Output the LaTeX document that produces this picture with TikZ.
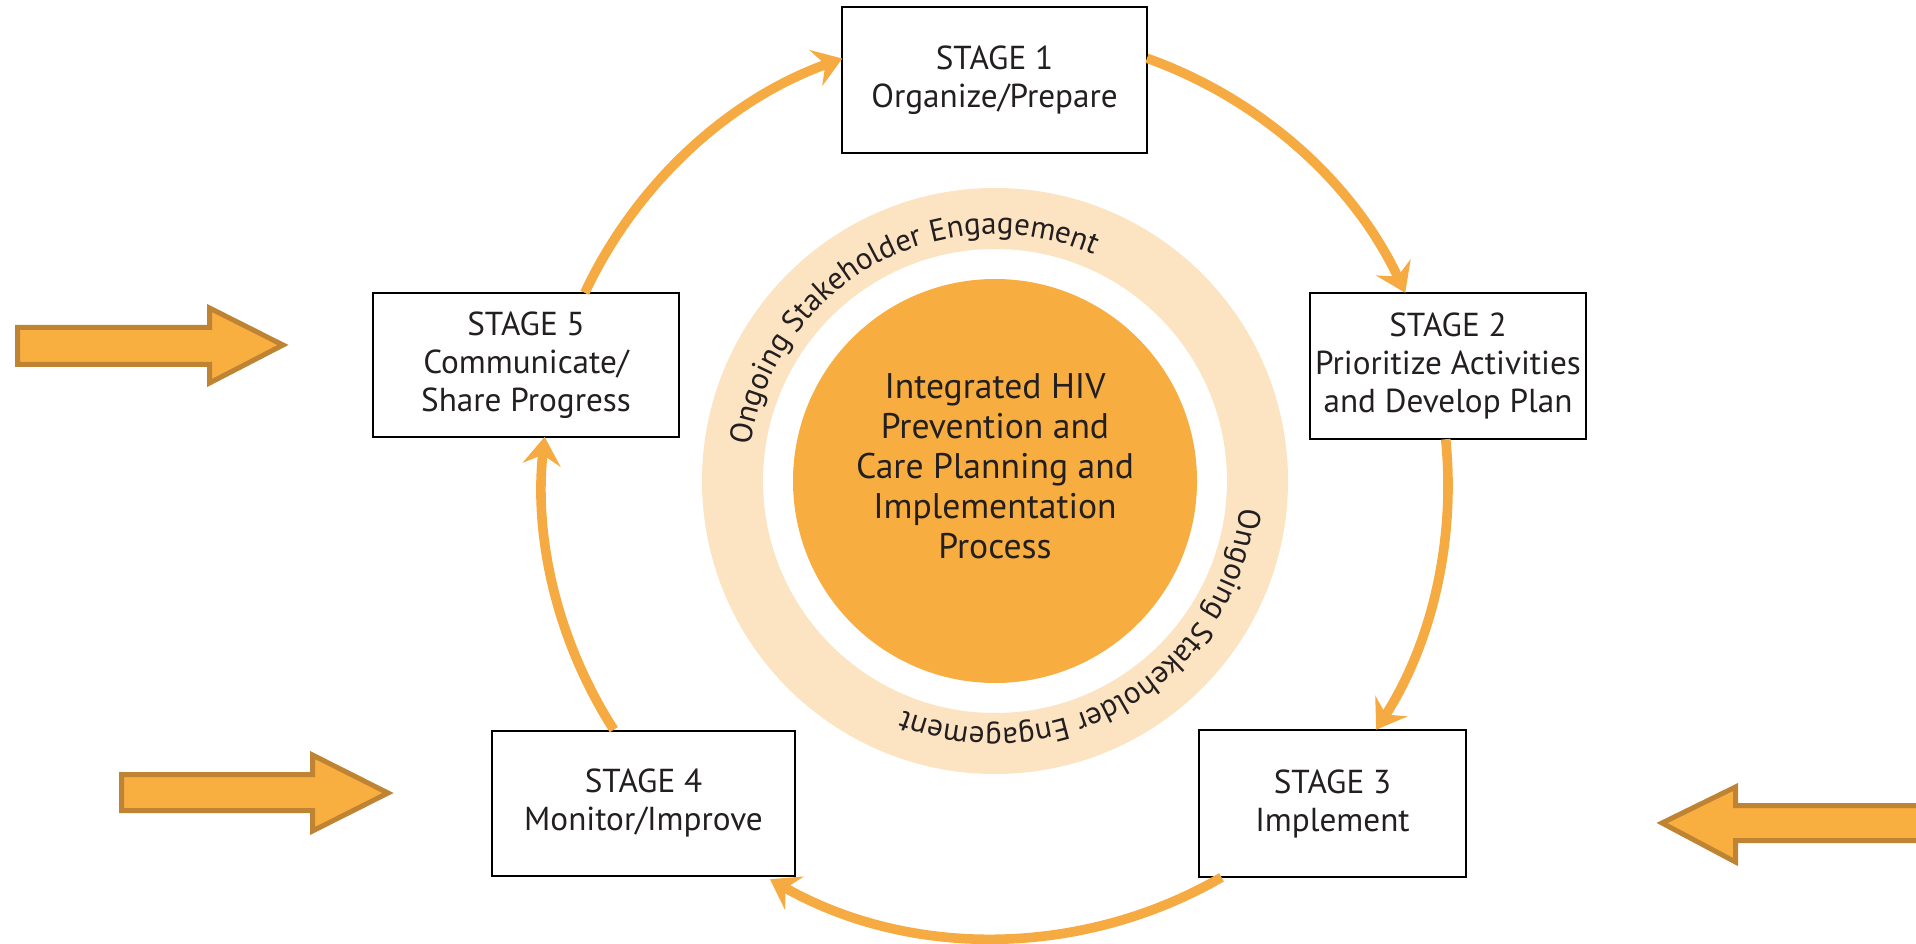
\documentclass[tikz,border=0pt]{standalone}
\usepackage{fontspec}
\setmainfont{PT Sans}
\usetikzlibrary{arrows.meta,decorations.text,calc}
\definecolor{arcorange}{HTML}{F5AA42}
\definecolor{core}{HTML}{F7AD40}
\definecolor{band}{HTML}{FCE3C2}
\definecolor{bfill}{HTML}{F9AE40}
\definecolor{bedge}{HTML}{BE8433}
\definecolor{ink}{HTML}{231F20}
\begin{document}
\begin{tikzpicture}[x=0.5pt,y=0.5pt,
  stagebox/.style={draw=black,line width=1pt,fill=white,align=center,
    font=\fontsize{16.6}{19}\selectfont,text=ink,inner sep=0pt},
  flow/.style={draw=arcorange,line width=4.8pt,
    -{Stealth[length=14pt,width=19pt,inset=5pt]}},
  blockarrow/.style={fill=bfill,draw=bedge,line width=2.5pt,line join=miter},
  ringtext/.style={decorate,decoration={text along path,text align=center,
    text={|\fontsize{15.5}{17}\selectfont\color{ink}|Ongoing Stakeholder Engagement}}}]
\useasboundingbox (0,0) rectangle (1916,943);
\clip (0,0) rectangle (1916,943);

% centre
\coordinate (c) at (995,462);
\coordinate (o) at (995,458);
\draw[draw=band,line width=30.5pt] (c) circle[radius=262.5];
\node[circle,fill=core,minimum size=202pt,inner sep=0pt] (core) at (c) {};
\node[align=center,text=ink,font=\fontsize{17.8}{20}\selectfont] (coretext) at (995,477)
  {Integrated HIV\\Prevention and\\Care Planning and\\Implementation\\Process};

% ring texts
\path[ringtext] ($(c)+(189:247)$) arc[start angle=189,end angle=49,radius=247];
\path[ringtext] ($(c)+(11:247)$) arc[start angle=11,end angle=-129,radius=247];

% stages
\node[stagebox,minimum width=152.5pt,minimum height=73pt] (s1) at (994.5,863) {STAGE 1\\Organize/Prepare};
\node[stagebox,minimum width=138pt,minimum height=73pt] (s2) at (1448,577) {STAGE 2\\Prioritize Activities\\and Develop Plan};
\node[stagebox,minimum width=133.5pt,minimum height=73.5pt] (s3) at (1332.5,139.5) {STAGE 3\\Implement};
\node[stagebox,minimum width=151.5pt,minimum height=72.5pt] (s4) at (643.5,140) {STAGE 4\\Monitor/Improve};
\node[stagebox,minimum width=153pt,minimum height=72pt] (s5) at (526,578) {STAGE 5\\Communicate/\\Share Progress};

% cycle arrows
\coordinate (f51) at ($(o)+(154.9:453)$);
\coordinate (f12) at ($(o)+(70.4:453)$);
\coordinate (f23) at ($(o)+(5.8:453)$);
\coordinate (f34) at ($(o)+(-60:453)$);
\coordinate (f45) at ($(o)+(212.7:453)$);
\draw[flow] (f51) arc[start angle=154.9,end angle=109.7,radius=453];
\draw[flow] (f12) arc[start angle=70.4,end angle=25.1,radius=453];
\draw[flow] (f23) arc[start angle=5.8,end angle=-32.7,radius=453];
\draw[flow] (f34) arc[start angle=-60,end angle=-119.5,radius=455];
\draw[flow] (f45) arc[start angle=212.7,end angle=173.9,radius=453];

% block arrows
\draw[blockarrow] (17.5,615.5) -- (209.5,615.5) -- (209.5,635) -- (283,598) -- (209.5,560) -- (209.5,578.5) -- (17.5,578.5) -- cycle;
\draw[blockarrow] (121.5,168.5) -- (312.5,168.5) -- (312.5,188) -- (388,150) -- (312.5,112) -- (312.5,132.5) -- (121.5,132.5) -- cycle;
\draw[blockarrow] (1662,120) -- (1735.5,156) -- (1735.5,137.5) -- (1930,137.5) -- (1930,102.5) -- (1735.5,102.5) -- (1735.5,81) -- cycle;
\end{tikzpicture}
\end{document}
